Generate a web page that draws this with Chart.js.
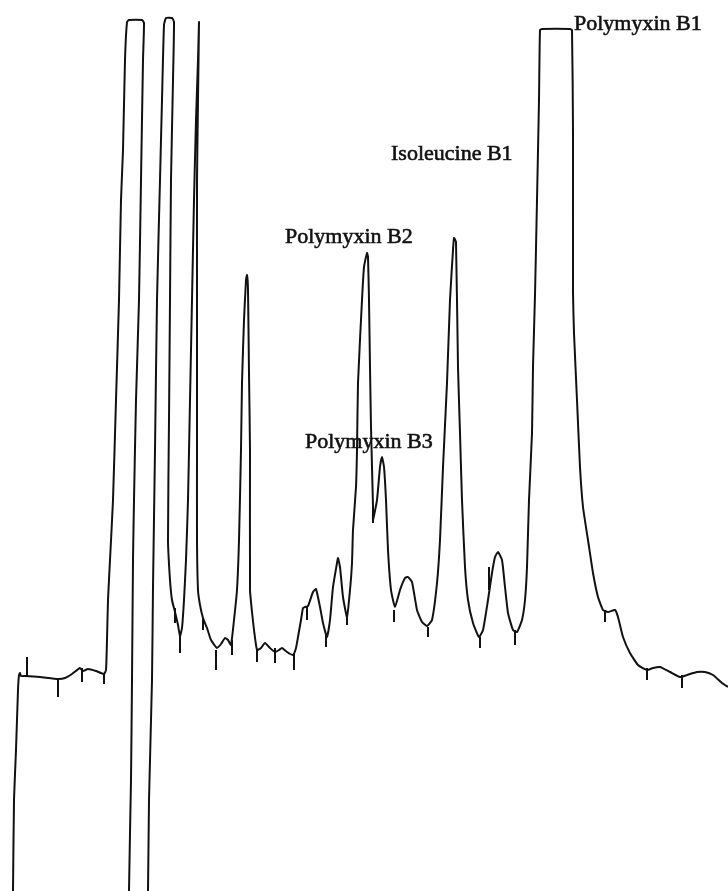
<!DOCTYPE html>
<html>
<head>
<meta charset="utf-8">
<script src="https://cdn.jsdelivr.net/npm/chart.js@4/dist/chart.umd.min.js"></script>
<style>
html,body{margin:0;padding:0;background:#fff;}
canvas{display:block;}
</style>
</head>
<body>
<canvas id="c" width="728" height="891"></canvas>
<script>
// Retention (arbitrary units) and detector signal (arbitrary units) of the trace
const traceTime = [13,14,16,18,19,20,21,25,40,58,65,72,80,83,88,96,104,106,107,108,110,113,116,119,121,123,125,127,129,142,144,143,141,139,136,134,133,132,131,129,130,147,
148,149,152,153,155,157,160,162,164,166,172,174,173,171,170,169,168,170,172,175,178,180,182,184,186,188,190,192,194,196,198,199,198,197,197,197,197,198,200,203,207,211,217,221,225,228,231,234,237,239,241,242,244,246,247,248,249,250,250,252,254,257,261,265,270,275,279,282,287,293,296,298,301,303,305,308,313,316,320,323,327,330,333,337,338,340,343,347,350,352,353,356,357,358,362,364,367,368,369,370,371,372,373,373,377,380,382,384,386,388,391,395,400,405,408,412,417,422,427,432,437,440,443,447,450,453,454,456,458,460,462,465,468,473,479,483,488,492,495,498,502,505,508,513,517,522,525,527,529,532,533,535,537,539,540,542,570,572,573,573,574,577,580,583,588,593,598,603,608,615,618,623,630,638,647,653,660,670,680,687,697,705,713,722,728];
const traceSignal = [0,91,141,201,216,218,215,215,214,212,213,217,223,220,222,220,217,221,251,291,331,391,491,591,691,741,831,869,871,871,868,831,711,591,491,391,331,211,111,0,-10,-10,
0,91,211,304,441,591,711,791,866,873,873,869,811,711,591,471,351,311,291,279,266,255,263,291,331,391,491,591,691,771,831,869,791,711,591,441,351,301,286,273,263,251,243,247,253,251,246,271,301,351,441,508,571,611,616,601,518,441,301,279,261,241,243,248,243,239,241,243,239,236,243,254,271,283,284,285,299,302,284,268,254,271,304,328,333,324,294,274,301,328,361,404,441,508,591,624,638,634,591,524,464,424,384,371,391,424,434,424,391,341,301,284,301,313,314,309,281,269,265,271,308,351,424,508,591,641,653,649,524,458,391,324,291,268,254,261,291,318,334,339,331,304,278,261,259,271,291,324,391,458,524,596,691,791,861,862,862,861,758,598,558,491,424,384,351,318,294,281,279,281,274,254,238,226,221,223,224,219,214,216,219,219,216,208,204];

// Integration markers: position, top and bottom of each small vertical tick
const markerTime   = [27,58,82,104,175,180,203,216,232,257,275,294,307,326,347,373,394,428,480,489,515,605,647,682];
const markerTop    = [234,213,223,218,283,256,273,241,251,241,243,238,284,258,276,381,281,264,254,324,261,281,223,216];
const markerBottom = [215,194,209,207,268,238,261,221,236,229,228,221,271,244,266,368,269,254,243,301,246,269,211,203];

// Peak labels
const labelText   = ["Polymyxin B1","Isoleucine B1","Polymyxin B2","Polymyxin B3"];
const labelTime   = [574,391,285,305];
const labelSignal = [861,731,648,443];

const tracePts = traceTime.map((t,i)=>({x:t,y:traceSignal[i]}));
const markerPts = [];
markerTime.forEach((t,i)=>{
  markerPts.push({x:t,y:markerTop[i]});
  markerPts.push({x:t,y:markerBottom[i]});
  markerPts.push({x:t,y:null});
});

const labelPlugin = {
  id:'peakLabels',
  afterDatasetsDraw(chart){
    const {ctx, scales:{x,y}} = chart;
    ctx.save();
    ctx.fillStyle = '#111';
    ctx.strokeStyle = '#111';
    ctx.lineWidth = 0.6;
    ctx.font = '22px "Liberation Serif", "Times New Roman", serif';
    ctx.textAlign = 'left';
    ctx.textBaseline = 'alphabetic';
    labelText.forEach((s,i)=>{
      const px = x.getPixelForValue(labelTime[i]), py = y.getPixelForValue(labelSignal[i]);
      ctx.fillText(s, px, py);
      ctx.strokeText(s, px, py);
    });
    ctx.restore();
  }
};

new Chart(document.getElementById('c'), {
  type:'line',
  data:{
    datasets:[
      {data:tracePts, borderColor:'#111', borderWidth:2, pointRadius:0, tension:0.15, fill:false, borderJoinStyle:'round'},
      {data:markerPts, borderColor:'#111', borderWidth:2, pointRadius:0, tension:0, fill:false, spanGaps:false}
    ]
  },
  options:{
    responsive:false,
    animation:false,
    layout:{padding:0},
    scales:{
      x:{type:'linear', min:0, max:728, display:false},
      y:{type:'linear', min:0, max:891, display:false}
    },
    plugins:{legend:{display:false}, tooltip:{enabled:false}}
  },
  plugins:[labelPlugin]
});
</script>
</body>
</html>
